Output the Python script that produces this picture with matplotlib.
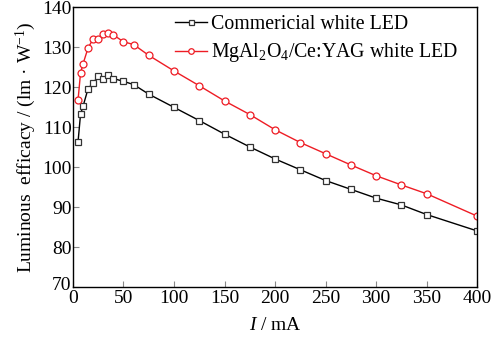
import matplotlib
matplotlib.use("Agg")
import matplotlib.pyplot as plt
import matplotlib.transforms as mtransforms

plt.rcParams["font.family"] = ["Liberation Serif", "DejaVu Serif"]
plt.rcParams["mathtext.fontset"] = "custom"
plt.rcParams["mathtext.rm"] = "Liberation Serif"
plt.rcParams["mathtext.it"] = "Liberation Serif:italic"

# current (mA)
current = [5, 7.5, 10, 15, 20, 25, 30, 35, 40, 50, 60, 75, 100, 125, 150,
           175, 200, 225, 250, 275, 300, 325, 350, 400]

commercial = [106.3, 113.3, 115.3, 119.7, 121.1, 122.8, 122.2, 123.1, 122.2,
              121.5, 120.7, 118.3, 115.0, 111.7, 108.3, 105.1, 102.1, 99.4,
              96.7, 94.5, 92.3, 90.6, 88.2, 84.1]

mgal2o4 = [116.8, 123.6, 125.9, 129.9, 132.1, 132.1, 133.3, 133.6, 133.1,
           131.4, 130.7, 128.0, 124.1, 120.4, 116.6, 113.2, 109.4, 106.2,
           103.4, 100.6, 97.9, 95.6, 93.4, 87.8]

labels = ["Commericial white LED",
          r"MgAl$_2$O$_4$/Ce:YAG white LED"]

fig = plt.figure(figsize=(4.93, 3.5), dpi=100)
ax = fig.add_axes([0.148, 0.179, 0.820, 0.800])

ax.plot(current, commercial, "-s", color="black", lw=1.0, ms=4.5,
        mfc="white", mec="#333333", mew=0.9, label=labels[0])
ax.plot(current, mgal2o4, "-o", color="#ee1c24", lw=1.0, ms=5,
        mfc="white", mec="#ee1c24", mew=0.9, label=labels[1])

ax.set_xlim(0, 400)
ax.set_ylim(70, 140)
ax.set_xticks(range(0, 401, 50))
ax.set_yticks(range(70, 141, 10))
ax.tick_params(direction="in", length=4, width=0.8, color="#888888",
               labelsize=14, top=False, right=False, pad=1)
ax.tick_params(axis="x", pad=2)
for s in ax.spines.values():
    s.set_linewidth(1.0)

# lowest y label is lifted a little so it clears the x-axis "0"
fig.canvas.draw()
lift = mtransforms.ScaledTranslation(0, 4 / 100, fig.dpi_scale_trans)
low = ax.get_yticklabels()[0]
low.set_transform(low.get_transform() + lift)

ax.set_xlabel(r"$\mathit{I}$ / mA", fontsize=14, labelpad=7)
ax.set_ylabel("Luminous  efficacy / (lm \u00b7 W$^{-1}$)", fontsize=14,
              labelpad=3)

ax.legend(loc="upper left", frameon=False, fontsize=14.3, handlelength=1.6,
          handletextpad=0.2, labelspacing=0.4, borderaxespad=0.0,
          borderpad=0.15, markerscale=0.8, bbox_to_anchor=(0.245, 0.985))

fig.savefig("out.png", dpi=100)
